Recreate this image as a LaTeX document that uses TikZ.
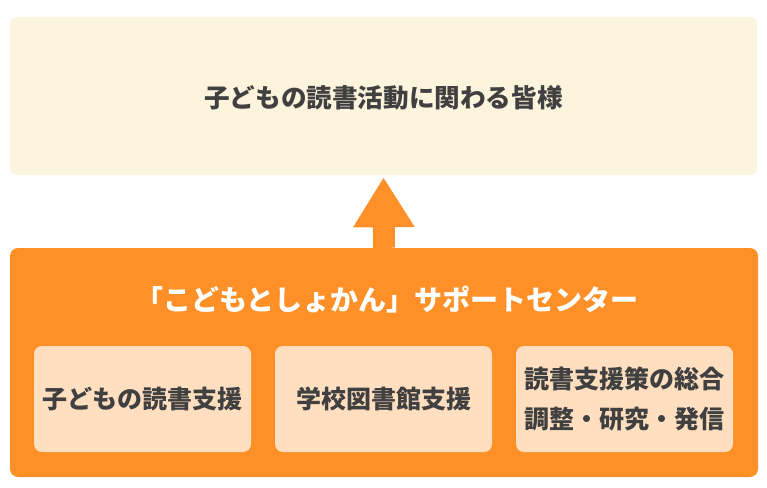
\documentclass[tikz,border=0pt]{standalone}
\usepackage{fontspec}
\setmainfont{Noto Sans CJK JP}
\usetikzlibrary{arrows.meta}
\definecolor{cream}{HTML}{FCF4DD}
\definecolor{orng}{HTML}{FF9028}
\definecolor{peach}{HTML}{FFDFC0}
\definecolor{txt}{HTML}{404040}
\tikzset{
  topbox/.style={fill=cream, rounded corners=7pt, minimum width=747pt, minimum height=158pt, inner sep=0pt},
  centerbox/.style={fill=orng, rounded corners=8pt, minimum width=748pt, minimum height=229pt, inner sep=0pt},
  subbox/.style={fill=peach, rounded corners=8pt, minimum width=217pt, minimum height=106pt, inner sep=0pt, align=center,
    text=txt, font=\fontsize{25}{40}\selectfont\bfseries},
  bodytext/.style={text=txt, font=\fontsize{25.6}{30}\selectfont\bfseries},
  titletext/.style={text=white, font=\fontsize{28}{32}\selectfont\bfseries},
  bigarrow/.style={orng, line width=22pt, -{Triangle[width=58pt,length=50pt]}}
}
\begin{document}
\begin{tikzpicture}[x=1pt,y=-1pt]
\useasboundingbox (0,0) rectangle (767,487);
\node[topbox] (top) at (383.5,96) {};
\node[bodytext] (toptext) at (383.5,98) {子どもの読書活動に関わる皆様};
\node[centerbox] (center) at (384,362.5) {};
\node[titletext] (title) at (387,300) {「こどもとしょかん」サポートセンター};
\node[subbox] (s1) at (142.5,399) {子どもの読書支援};
\node[subbox] (s2) at (383.5,399) {学校図書館支援};
\node[subbox] (s3) at (624.5,399) {読書支援策の総合\\調整・研究・発信};
\draw[bigarrow] (center.north) -- ([yshift=-2pt]top.south);
\end{tikzpicture}
\end{document}
